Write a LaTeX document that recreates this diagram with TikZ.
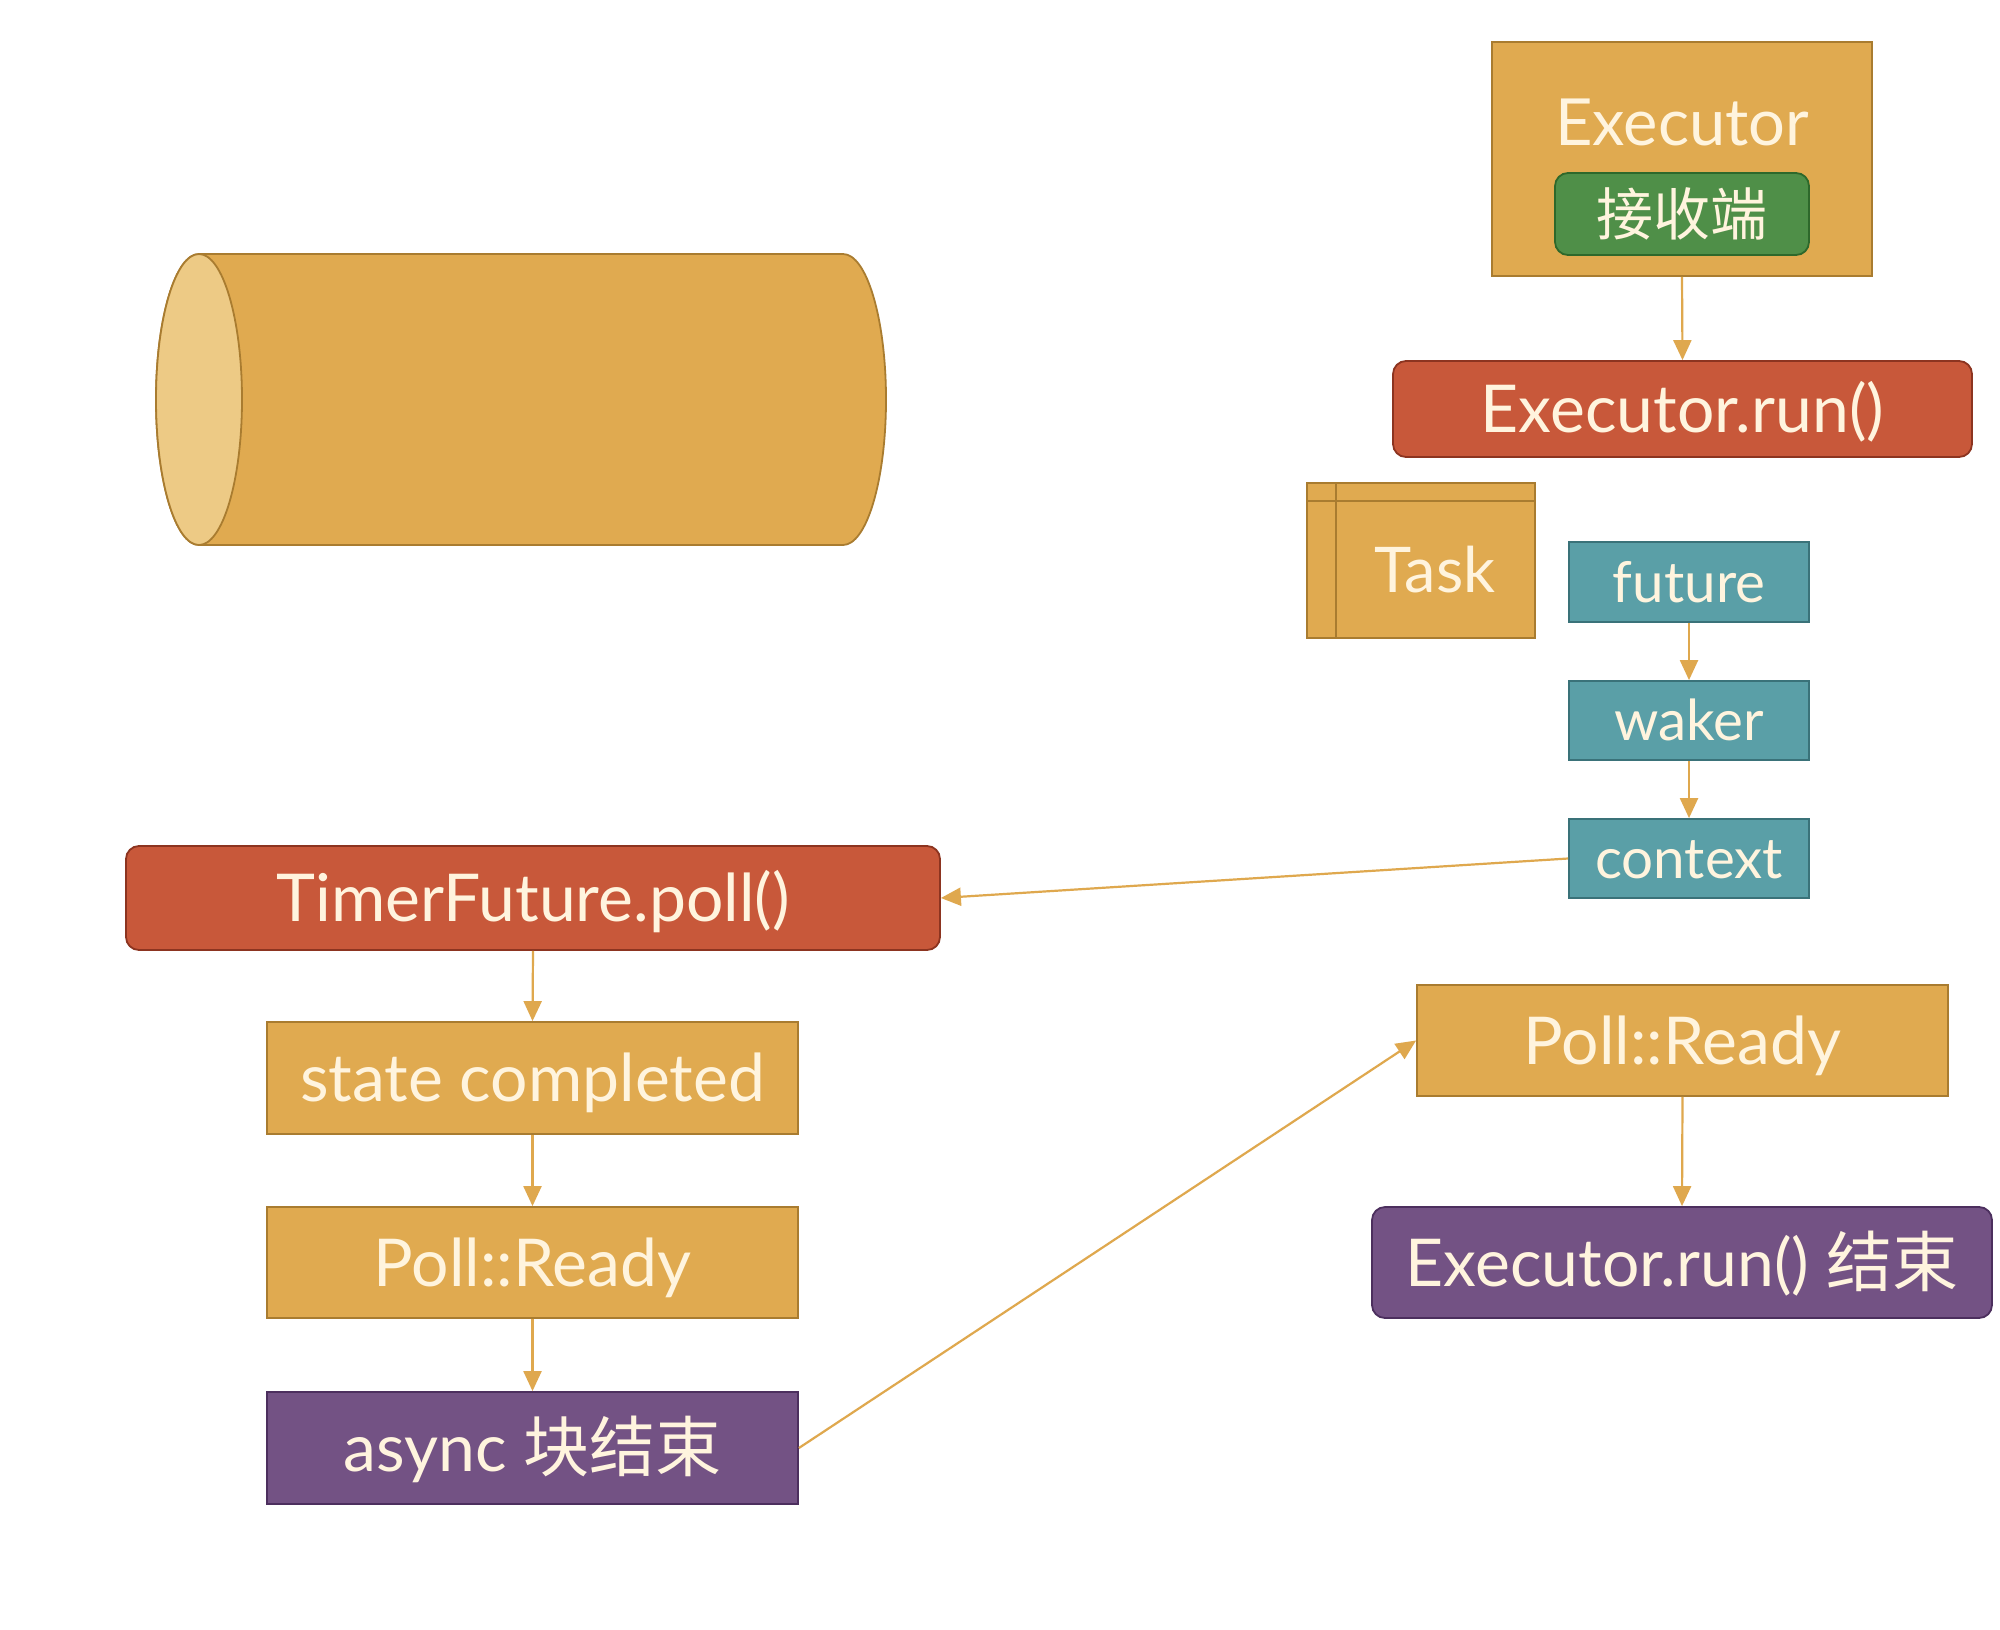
\documentclass[tikz,border=0pt]{standalone}
\usepackage{fontspec}
\setmainfont{Lato}
\newfontfamily\cjk{Noto Sans CJK SC}
\usetikzlibrary{arrows.meta}
\definecolor{goldF}{HTML}{E0AA50}
\definecolor{goldD}{HTML}{A97C30}
\definecolor{goldL}{HTML}{EDCA85}
\definecolor{redF}{HTML}{C8583A}
\definecolor{redD}{HTML}{8C3420}
\definecolor{tealF}{HTML}{5A9FA7}
\definecolor{tealD}{HTML}{3A7279}
\definecolor{greenF}{HTML}{4F8F48}
\definecolor{greenD}{HTML}{2E682B}
\definecolor{purpF}{HTML}{735284}
\definecolor{purpD}{HTML}{4C2F5E}
\definecolor{txt}{HTML}{FFF4DE}
\definecolor{arr}{HTML}{DFA84E}
\tikzset{
  box/.style={draw, line width=1.8pt, inner sep=0pt, text=txt, text depth=0pt},
  goldbox/.style={box, fill=goldF, draw=goldD},
  redbox/.style={box, fill=redF, draw=redD, rounded corners=13pt},
  tealbox/.style={box, fill=tealF, draw=tealD, font=\fontsize{56.5}{60}\selectfont, text height=40.5pt},
  greenbox/.style={box, fill=greenF, draw=greenD, rounded corners=13pt},
  purpbox/.style={box, fill=purpF, draw=purpD},
  big/.style={font=\fontsize{66}{70}\selectfont, text height=47.3pt},
  conn/.style={draw=arr, line width=2.2pt, -{Triangle[length=20pt,width=18pt]}},
  plain/.style={inner sep=0pt, text=txt, text depth=0pt}
}
\begin{document}
\begin{tikzpicture}[x=1pt,y=-1pt]
\useasboundingbox[fill=white] (0,0) rectangle (2000,1630);

% cylinder
\fill[goldF, draw=goldD, line width=1.8pt] (199,254) -- (843,254)
  arc[start angle=-90, end angle=90, x radius=43, y radius=145.5]
  -- (199,545) arc[start angle=90, end angle=270, x radius=43, y radius=145.5] -- cycle;
\draw[fill=goldL, draw=goldD, line width=1.8pt] (199,399.5) ellipse[x radius=43, y radius=145.5];

% Executor
\node[goldbox, minimum width=380pt, minimum height=234pt] (exec) at (1682,159) {};
\node[plain, font=\fontsize{65}{70}\selectfont, text height=46.6pt] (exectxt) at (1682,122) {Executor};
\node[greenbox, minimum width=254pt, minimum height=82pt, font=\cjk\fontsize{57}{60}\selectfont, text height=43pt] (recv) at (1682,214) {接收端};

\node[redbox, big, minimum width=579pt, minimum height=96pt] (run) at (1682.5,409) {Executor.run()};

% Task
\node[goldbox, minimum width=228pt, minimum height=155pt] (task) at (1421,560.5) {};
\draw[goldD, line width=1.8pt] ([yshift=-19pt]task.north west) -- ([yshift=-19pt]task.north east);
\draw[goldD, line width=1.8pt] ([xshift=30pt]task.north west) -- ([xshift=30pt]task.south west);
\node[plain, font=\fontsize{63}{66}\selectfont, text height=45pt] (tasktxt) at (1435,570) {Task};

\node[tealbox, minimum width=240pt, minimum height=80pt] (future) at (1689,582) {future};
\node[tealbox, minimum width=240pt, minimum height=79pt] (waker) at (1689,720.5) {waker};
\node[tealbox, minimum width=240pt, minimum height=79pt] (context) at (1689,858.5) {context};

% left column
\node[redbox, big, minimum width=814pt, minimum height=104pt] (tfpoll) at (533,898) {TimerFuture.poll()};
\node[goldbox, big, minimum width=531pt, minimum height=112pt] (state) at (532.5,1078) {state completed};
\node[goldbox, big, minimum width=531pt, minimum height=111pt] (ready1) at (532.5,1262.5) {Poll::Ready};
\node[purpbox, big, minimum width=531pt, minimum height=112pt] (async) at (532.5,1448) {async {\cjk 块结束}};

% right bottom
\node[goldbox, big, minimum width=531pt, minimum height=111pt] (ready2) at (1682.5,1040.5) {Poll::Ready};
\node[purpbox, big, rounded corners=13pt, minimum width=620pt, minimum height=111pt] (runend) at (1682,1262.5) {Executor.run() {\cjk 结束}};

% connectors
\draw[conn] (exec.south) -- (run.north);
\draw[conn] (future.south) -- (waker.north);
\draw[conn] (waker.south) -- (context.north);
\draw[conn] (context.west) -- (tfpoll.east);
\draw[conn] (tfpoll.south) -- (state.north);
\draw[conn] (state.south) -- (ready1.north);
\draw[conn] (ready1.south) -- (async.north);
\draw[conn] (async.east) -- (ready2.west);
\draw[conn] (ready2.south) -- (runend.north);
\end{tikzpicture}
\end{document}
